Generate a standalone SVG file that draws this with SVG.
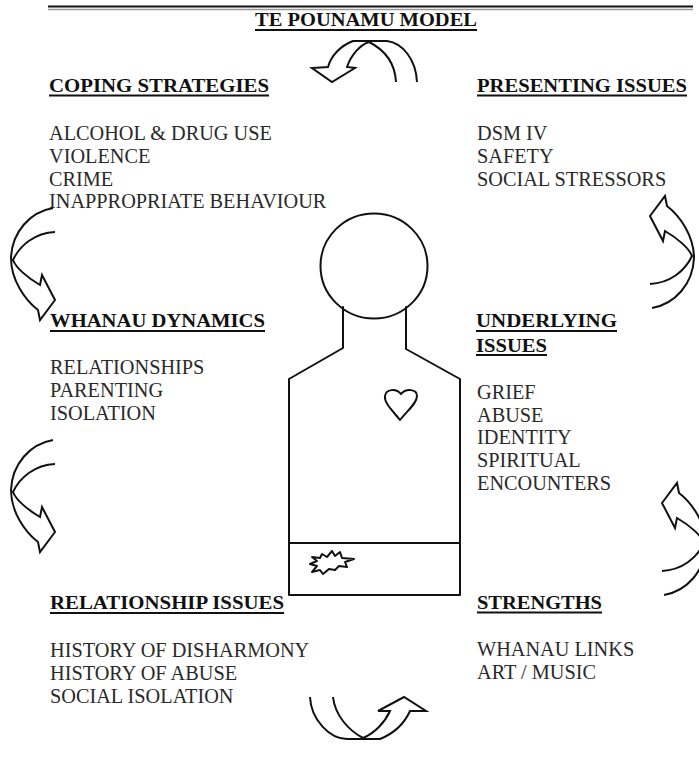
<svg xmlns="http://www.w3.org/2000/svg" width="699" height="775" viewBox="0 0 699 775">
<style>
.h{font-family:"Liberation Serif","Times New Roman",serif;font-weight:bold;font-size:19px;fill:#111}
.t{font-family:"Liberation Serif","Times New Roman",serif;font-size:20.3px;fill:#2a2a2a}
.u{stroke:#111;stroke-width:2}
.ln{fill:none;stroke:#111;stroke-width:2;stroke-linejoin:round;stroke-linecap:round}
.arr{fill:none;stroke:#111;stroke-width:2;stroke-linejoin:miter;stroke-linecap:butt}
</style>
<defs>
<path id="leftArrow" d="M 53,208 C 30,212 12,232 11,258 C 11,280 25,300 38,310 L 40,320 L 55,300 L 42,275 L 40,285 C 28,278 16,268 13,260 C 20,245 35,233 55,232"/>
<path id="rightArrow" d="M 652,308 C 675,304 693,284 694,258 C 694,236 680,216 667,206 L 665,196 L 650,216 L 663,241 L 665,231 C 677,238 689,248 692,256 C 685,271 670,283 650,284"/>
</defs>
<rect width="699" height="775" fill="#fff"/>
<g id="top-rule">
<line x1="48" y1="6.5" x2="693" y2="6.5" stroke="#111" stroke-width="2.2"/>
<line x1="48" y1="9.5" x2="693" y2="9.5" stroke="#999" stroke-width="1.5"/>
</g>
<g id="title">
<text class="h" x="255" y="26" textLength="222" lengthAdjust="spacingAndGlyphs">TE POUNAMU MODEL</text>
<line class="u" x1="255" y1="30" x2="477" y2="30"/>
</g>
<g id="coping-strategies">
<text class="h" x="49" y="92" textLength="220" lengthAdjust="spacingAndGlyphs">COPING STRATEGIES</text>
<line class="u" x1="49" y1="95.5" x2="269" y2="95.5"/>
<text class="t" x="49" y="140">ALCOHOL &amp; DRUG USE</text>
<text class="t" x="49" y="163">VIOLENCE</text>
<text class="t" x="49" y="186">CRIME</text>
<text class="t" x="49" y="208">INAPPROPRIATE BEHAVIOUR</text>
</g>
<g id="presenting-issues">
<text class="h" x="477" y="92" textLength="210" lengthAdjust="spacingAndGlyphs">PRESENTING ISSUES</text>
<line class="u" x1="477" y1="95.5" x2="687" y2="95.5"/>
<text class="t" x="477" y="140">DSM IV</text>
<text class="t" x="477" y="163">SAFETY</text>
<text class="t" x="477" y="186">SOCIAL STRESSORS</text>
</g>
<g id="whanau-dynamics">
<text class="h" x="50" y="327" textLength="215" lengthAdjust="spacingAndGlyphs">WHANAU DYNAMICS</text>
<line class="u" x1="50" y1="331" x2="265" y2="331"/>
<text class="t" x="50" y="374">RELATIONSHIPS</text>
<text class="t" x="50" y="397">PARENTING</text>
<text class="t" x="50" y="420">ISOLATION</text>
</g>
<g id="underlying-issues">
<text class="h" x="476" y="327" textLength="141" lengthAdjust="spacingAndGlyphs">UNDERLYING</text>
<line class="u" x1="476" y1="331" x2="617" y2="331"/>
<text class="h" x="476" y="351.5" textLength="71" lengthAdjust="spacingAndGlyphs">ISSUES</text>
<line class="u" x1="476" y1="355" x2="547" y2="355"/>
<text class="t" x="477" y="399">GRIEF</text>
<text class="t" x="477" y="421.5">ABUSE</text>
<text class="t" x="477" y="444">IDENTITY</text>
<text class="t" x="477" y="467">SPIRITUAL</text>
<text class="t" x="477" y="490">ENCOUNTERS</text>
</g>
<g id="relationship-issues">
<text class="h" x="50" y="609" textLength="234" lengthAdjust="spacingAndGlyphs">RELATIONSHIP ISSUES</text>
<line class="u" x1="50" y1="613" x2="284" y2="613"/>
<text class="t" x="50" y="657">HISTORY OF DISHARMONY</text>
<text class="t" x="50" y="680">HISTORY OF ABUSE</text>
<text class="t" x="50" y="703">SOCIAL ISOLATION</text>
</g>
<g id="strengths">
<text class="h" x="477" y="609" textLength="125" lengthAdjust="spacingAndGlyphs">STRENGTHS</text>
<line class="u" x1="477" y1="612.5" x2="602" y2="612.5"/>
<text class="t" x="477" y="656">WHANAU LINKS</text>
<text class="t" x="477" y="679">ART / MUSIC</text>
</g>
<g id="person">
<ellipse class="ln" cx="374" cy="266" rx="53.5" ry="52.5"/>
<path class="ln" d="M 343,307 L 343,348 L 289,379 L 289,595 L 460,595 L 460,379 L 406,349 L 406,307"/>
<line class="ln" x1="289" y1="543" x2="460" y2="543"/>
<path id="heart" class="ln" d="M 400,420 C 392,410 384,403 385,396 C 386,389 396,388 401,394 C 406,388 417,389 417,396 C 417,403 408,410 400,420 Z"/>
<path id="starburst" class="ln" d="M 312,557 L 320,558 L 322,554 L 327,557 L 332,551 L 335,556 L 340,552 L 342,558 L 354,559 L 345,562 L 347,567 L 339,566 L 335,570 L 329,569 L 323,574 L 320,570 L 312,572 L 317,566 L 310,564 L 317,561 Z"/>
</g>
<g id="connectors">
<path class="arr" d="M 417,82 C 416,60 403,43 387,41 L 353,41 C 340,46 331,56 328,67 L 312,68 L 332,82 L 355,68 L 347,67 C 351,55 360,45 369,42 C 385,50 395,64 396,82"/>
<use href="#rightArrow" class="arr"/>
<use href="#rightArrow" class="arr" transform="translate(12,287)"/>
<use href="#leftArrow" class="arr"/>
<use href="#leftArrow" class="arr" transform="translate(0,232)"/>
<path class="arr" d="M 310,697 C 311,720 330,739 347,739 L 380,739 C 395,733 405,722 410,711 L 426,711 L 404,697 L 378,711 L 390,711 C 385,722 375,733 363,738 C 348,730 335,715 333,697"/>
</g>
</svg>
